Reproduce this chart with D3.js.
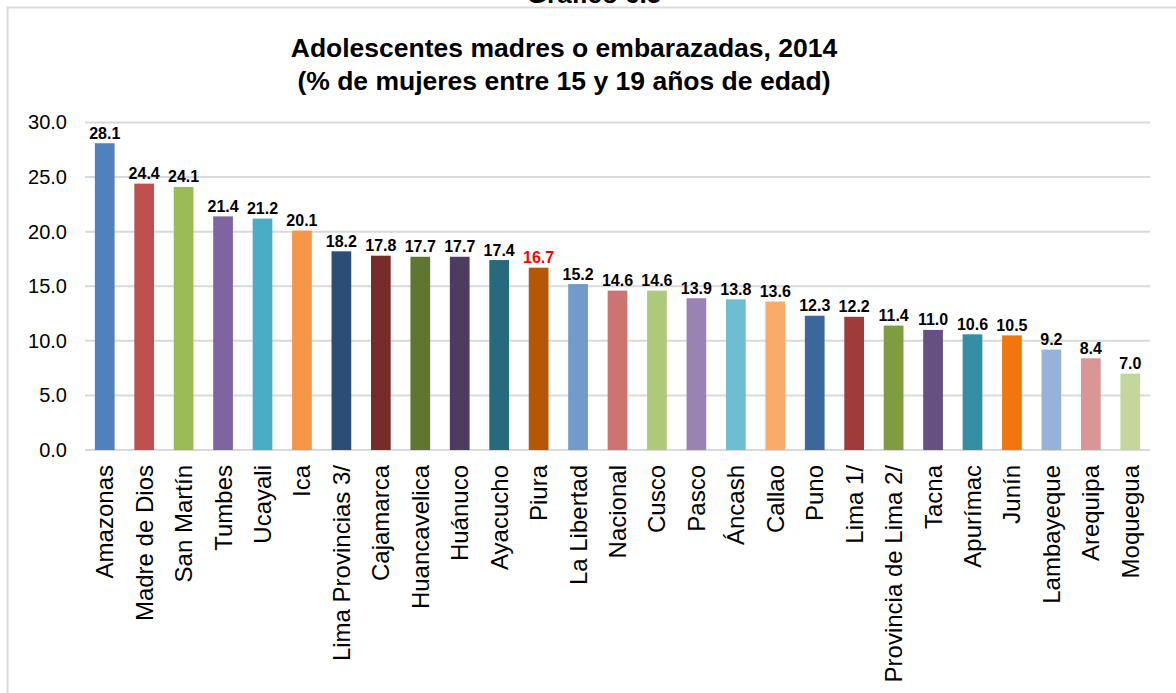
<!DOCTYPE html>
<html>
<head>
<meta charset="utf-8">
<script src="https://cdn.jsdelivr.net/npm/d3@7"></script>
<style>
  html, body { margin: 0; padding: 0; background: #fff; }
  svg { display: block; font-family: Arial, "Liberation Sans", sans-serif; }
</style>
</head>
<body>
<svg id="chart" width="1176" height="693"></svg>
<script>
// Adolescentes madres o embarazadas por departamento, 2014 (%)
const departamentos = [
  "Amazonas", "Madre de Dios", "San Martín", "Tumbes", "Ucayali", "Ica",
  "Lima Provincias 3/", "Cajamarca", "Huancavelica", "Huánuco", "Ayacucho",
  "Piura", "La Libertad", "Nacional", "Cusco", "Pasco", "Áncash", "Callao",
  "Puno", "Lima 1/", "Provincia de Lima 2/", "Tacna", "Apurímac", "Junín",
  "Lambayeque", "Arequipa", "Moquegua"
];
const porcentajes = [
  28.1, 24.4, 24.1, 21.4, 21.2, 20.1,
  18.2, 17.8, 17.7, 17.7, 17.4,
  16.7, 15.2, 14.6, 14.6, 13.9, 13.8, 13.6,
  12.3, 12.2, 11.4, 11.0, 10.6, 10.5,
  9.2, 8.4, 7.0
];
const colores = [
  "#4F81BD", "#C0504D", "#9BBB59", "#8064A2", "#4BACC6", "#F79646",
  "#2C4D75", "#772C2A", "#5F7530", "#4D3B62", "#276A7C",
  "#B65708", "#729ACA", "#CD7371", "#AFC97A", "#9983B5", "#6FBDD1", "#F9AB6B",
  "#3A679C", "#9F3B38", "#7E9D40", "#664F82", "#358EA6", "#F2760E",
  "#95B3D7", "#D99694", "#C3D69B"
];
const ticksY = [0, 5, 10, 15, 20, 25, 30];
const destacado = "Piura";

const svg = d3.select("#chart");

// marco exterior
svg.append("rect")
  .attr("x", 7.5).attr("y", 7.5)
  .attr("width", 1200).attr("height", 720)
  .attr("fill", "none").attr("stroke", "#d9d9d9").attr("stroke-width", 2);

// encabezado del gráfico (parcialmente fuera de la página)
svg.append("text")
  .attr("x", 594).attr("y", 3)
  .attr("text-anchor", "middle")
  .attr("font-weight", "bold").attr("font-size", 26)
  .text("Gráfico 6.5");

// título
const titulo = svg.append("text")
  .attr("text-anchor", "middle")
  .attr("font-weight", "bold").attr("font-size", 26.5);
titulo.append("tspan").attr("x", 564).attr("y", 57)
  .text("Adolescentes madres o embarazadas, 2014");
titulo.append("tspan").attr("x", 564).attr("y", 90)
  .text("(% de mujeres entre 15 y 19 años de edad)");

const x = d3.scaleBand()
  .domain(departamentos)
  .range([85, 1150])
  .paddingInner(0.5)
  .paddingOuter(0.25);

const y = d3.scaleLinear()
  .domain([0, 30])
  .range([450, 122.5]);

// cuadrícula horizontal
svg.append("g")
  .selectAll("line")
  .data(ticksY)
  .join("line")
  .attr("x1", 85).attr("x2", 1150)
  .attr("y1", d => y(d)).attr("y2", d => y(d))
  .attr("stroke", "#d9d9d9").attr("stroke-width", 2);

// eje Y
const ejeY = svg.append("g")
  .attr("transform", "translate(85,0)")
  .call(d3.axisLeft(y).tickValues(ticksY).tickFormat(d3.format(".1f")).tickSize(0).tickPadding(18));
ejeY.select(".domain").remove();
ejeY.selectAll("text")
  .attr("font-family", "Arial, 'Liberation Sans', sans-serif")
  .attr("font-size", 20).attr("fill", "#000");

// barras
svg.append("g")
  .selectAll("rect")
  .data(departamentos)
  .join("rect")
  .attr("x", d => x(d))
  .attr("width", x.bandwidth())
  .attr("y", (d, i) => y(porcentajes[i]))
  .attr("height", (d, i) => y(0) - y(porcentajes[i]))
  .attr("fill", (d, i) => colores[i]);

// etiquetas de valor
svg.append("g")
  .selectAll("text")
  .data(departamentos)
  .join("text")
  .attr("x", d => x(d) + x.bandwidth() / 2)
  .attr("y", (d, i) => y(porcentajes[i]) - 4.5)
  .attr("text-anchor", "middle")
  .attr("font-weight", "bold").attr("font-size", 16)
  .attr("fill", d => d === destacado ? "#FF0000" : "#000")
  .text((d, i) => d3.format(".1f")(porcentajes[i]));

// eje X con etiquetas verticales
const ejeX = svg.append("g")
  .attr("transform", "translate(0,450)")
  .call(d3.axisBottom(x).tickSize(0).tickPadding(0));
ejeX.select(".domain").remove();
ejeX.selectAll("text")
  .attr("font-family", "Arial, 'Liberation Sans', sans-serif")
  .attr("font-size", 24).attr("fill", "#000")
  .attr("text-anchor", "end")
  .attr("dy", null)
  .attr("dominant-baseline", "central")
  .attr("transform", "translate(0,15) rotate(-90)")
  .attr("x", 0).attr("y", 0);
</script>
</body>
</html>
